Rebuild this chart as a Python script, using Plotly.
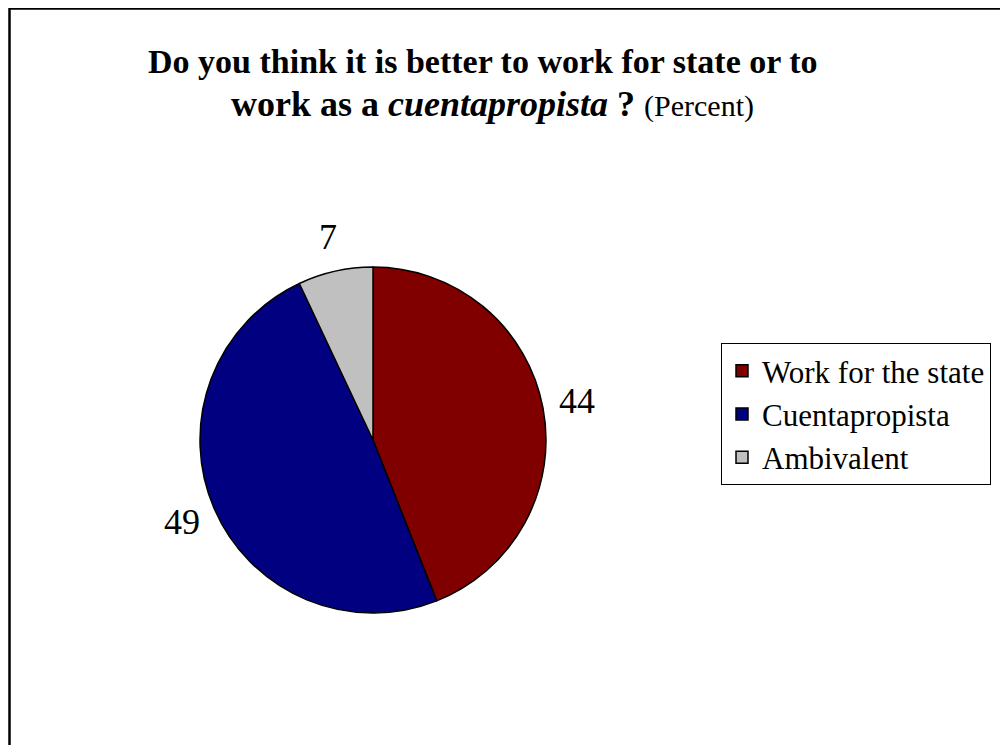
import math
import plotly.graph_objects as go

labels = ["Work for the state", "Cuentapropista", "Ambivalent"]
values = [44, 49, 7]
colors = ["#800000", "#000080", "#C0C0C0"]

W, H = 1008, 745
FONT = "Liberation Serif"
OFF = 8  # page body margin

# pie geometry (pixels, page coordinates)
CX, CY, R = 373, 440, 173
LABEL_R = 1.2 * R

fig = go.Figure()
fig.add_trace(go.Pie(
    labels=labels, values=values, sort=False, direction="clockwise", rotation=0,
    marker=dict(colors=colors, line=dict(color="black", width=1.5)),
    textinfo="none",
    domain=dict(x=[(CX - R - OFF) / W, (CX + R - OFF) / W],
                y=[1 - (CY + R - OFF) / H, 1 - (CY - R - OFF) / H]),
    showlegend=True,
))

# value labels placed outside at slice mid-angles
annotations = []
total = sum(values)
cum = 0
for v in values:
    mid = (cum + v / 2) / total * 2 * math.pi
    cum += v
    px = CX + LABEL_R * math.sin(mid) - OFF
    py = CY - LABEL_R * math.cos(mid) - OFF
    annotations.append(dict(text=str(v), x=px / W, y=1 - py / H, xref="paper", yref="paper",
                            showarrow=False, xanchor="center", yanchor="middle",
                            font=dict(family=FONT, size=36, color="black")))

annotations += [
    dict(text="<b>Do you think it is better to work for state or to</b>",
         x=(483 - OFF) / W, y=1 - (61 - OFF) / H, xref="paper", yref="paper",
         showarrow=False, xanchor="center", yanchor="middle",
         font=dict(family=FONT, size=34, color="black")),
    dict(text="<b>work as a <i>cuentapropista</i> ? </b><span style='font-size:30px'>(Percent)</span>",
         x=(492 - OFF) / W, y=1 - (104 - OFF) / H, xref="paper", yref="paper",
         showarrow=False, xanchor="center", yanchor="middle",
         font=dict(family=FONT, size=36, color="black")),
]

fig.update_layout(
    width=W, height=H,
    margin=dict(l=0, r=0, t=0, b=0),
    paper_bgcolor="white", plot_bgcolor="white",
    legend=dict(
        x=(721 - OFF) / W, y=1 - (343 - OFF) / H, xanchor="left", yanchor="top",
        font=dict(family=FONT, size=31, color="black"),
        bordercolor="black", borderwidth=1, bgcolor="white",
        tracegroupgap=0,
    ),
    shapes=[dict(type="rect", xref="paper", yref="paper",
                 x0=(9.5 - OFF) / W, x1=1.2, y0=-0.2, y1=1 - 0.5 / H,
                 line=dict(color="black", width=2.5), fillcolor="rgba(0,0,0,0)")],
    annotations=annotations,
)

fig.write_html("out.html")
